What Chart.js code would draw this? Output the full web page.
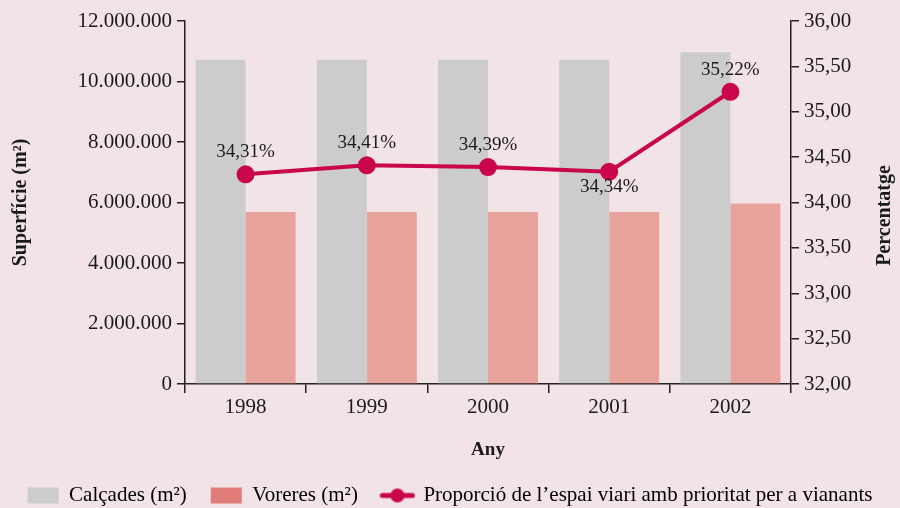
<!DOCTYPE html>
<html>
<head>
<meta charset="utf-8">
<script src="https://cdn.jsdelivr.net/npm/chart.js@4"></script>
<style>
body { margin: 0; background: #f1e3e6; }
#wrap { width: 900px; height: 508px; }
</style>
</head>
<body>
<div id="wrap"><canvas id="myChart"></canvas></div>
<script>
const anys = ['1998', '1999', '2000', '2001', '2002'];
const calcades = [10720000, 10720000, 10720000, 10720000, 10970000];
const voreres = [5690000, 5690000, 5690000, 5690000, 5970000];
const proporcio = [34.31, 34.41, 34.39, 34.34, 35.22];
const etiquetaSota = [false, false, false, true, false];

const vermell = '#c9064b';
Chart.defaults.font.family = "'Liberation Serif', serif";
Chart.defaults.font.size = 21;
Chart.defaults.color = '#1a1a1a';

// petit dibuix per a la llegenda de la línia
const iconaLinia = document.createElement('canvas');
iconaLinia.width = 36;
iconaLinia.height = 16;
const ic = iconaLinia.getContext('2d');
ic.strokeStyle = vermell;
ic.lineWidth = 5;
ic.lineCap = 'round';
ic.beginPath(); ic.moveTo(3, 8); ic.lineTo(33, 8); ic.stroke();
ic.fillStyle = vermell;
ic.beginPath(); ic.arc(18, 8, 7, 0, Math.PI * 2); ic.fill();

const fmtMil = v => Math.round(v).toString().replace(/\B(?=(\d{3})+(?!\d))/g, '.');
const fmtPct = v => v.toFixed(2).replace('.', ',');

const etiquetes = {
  id: 'etiquetes',
  afterDatasetsDraw(chart) {
    const ctx = chart.ctx;
    const meta = chart.getDatasetMeta(2);
    ctx.save();
    ctx.font = "19px 'Liberation Serif', serif";
    ctx.fillStyle = '#1a1a1a';
    ctx.textAlign = 'center';
    ctx.textBaseline = 'middle';
    meta.data.forEach((p, i) => {
      const y = etiquetaSota[i] ? p.y + 15 : p.y - 22;
      ctx.fillText(fmtPct(proporcio[i]) + '%', p.x, y);
    });
    // titol de l'eix dret, llegit de baix a dalt
    const eix = chart.scales.y2;
    ctx.font = "bold 20px 'Liberation Serif', serif";
    ctx.translate(885, (eix.top + eix.bottom) / 2 + 13);
    ctx.rotate(-Math.PI / 2);
    ctx.fillText('Percentatge', 0, 0);
    ctx.restore();
  }
};

const ctx = document.getElementById('myChart');
new Chart(ctx, {
  type: 'bar',
  data: {
    labels: anys,
    datasets: [
      { label: 'Calçades (m²)', data: calcades, backgroundColor: '#cccccc', yAxisID: 'y', order: 2 },
      { label: 'Voreres (m²)', data: voreres, backgroundColor: '#e7a39c', yAxisID: 'y', order: 2 },
      { label: "Proporció de l’espai viari amb prioritat per a vianants", type: 'line', data: proporcio,
        yAxisID: 'y2', borderColor: vermell, backgroundColor: vermell, borderWidth: 4,
        pointRadius: 7, pointHoverRadius: 7, order: 1 }
    ]
  },
  options: {
    responsive: true,
    maintainAspectRatio: false,
    animation: false,
    datasets: { bar: { categoryPercentage: 0.825, barPercentage: 1 } },
    layout: { padding: { top: 21, left: 0, right: 0, bottom: -8 } },
    plugins: {
      tooltip: { enabled: false },
      legend: {
        position: 'bottom',
        labels: {
          usePointStyle: true,
          pointStyleWidth: 31,
          boxHeight: 16,
          padding: 24,
          font: { size: 21 },
          generateLabels(chart) {
            const cols = ['#cccccc', '#e07b79'];
            return chart.data.datasets.map((d, i) => ({
              text: d.label,
              datasetIndex: i,
              fillStyle: i < 2 ? cols[i] : vermell,
              strokeStyle: 'transparent',
              lineWidth: 0,
              pointStyle: i < 2 ? 'rect' : iconaLinia
            }));
          }
        }
      }
    },
    scales: {
      x: {
        grid: { offset: true, drawOnChartArea: false, tickLength: 9, color: '#222', lineWidth: 1.5 },
        border: { color: '#222', width: 1.5 },
        ticks: { padding: 2 },
        title: { display: true, text: 'Any', font: { size: 19, weight: 'bold' }, padding: { top: 0, bottom: 0 } },
        afterFit(s) { s.height = 77; }
      },
      y: {
        position: 'left',
        min: 0, max: 12000000,
        grid: { drawOnChartArea: false, tickLength: 8, color: '#222', lineWidth: 1.5 },
        border: { color: '#222', width: 1.5 },
        ticks: { stepSize: 2000000, padding: 5, callback: v => fmtMil(v) },
        title: { display: true, text: 'Superfície (m²)', font: { size: 20, weight: 'bold' }, padding: { top: 9, bottom: 0 } },
        afterFit(s) { s.width = 185; }
      },
      y2: {
        position: 'right',
        min: 32, max: 36,
        grid: { drawOnChartArea: false, tickLength: 8, color: '#222', lineWidth: 1.5 },
        border: { color: '#222', width: 1.5 },
        ticks: { stepSize: 0.5, padding: 5, callback: v => fmtPct(v) },
        afterFit(s) { s.width = 109; }
      }
    }
  },
  plugins: [etiquetes]
});
</script>
</body>
</html>
